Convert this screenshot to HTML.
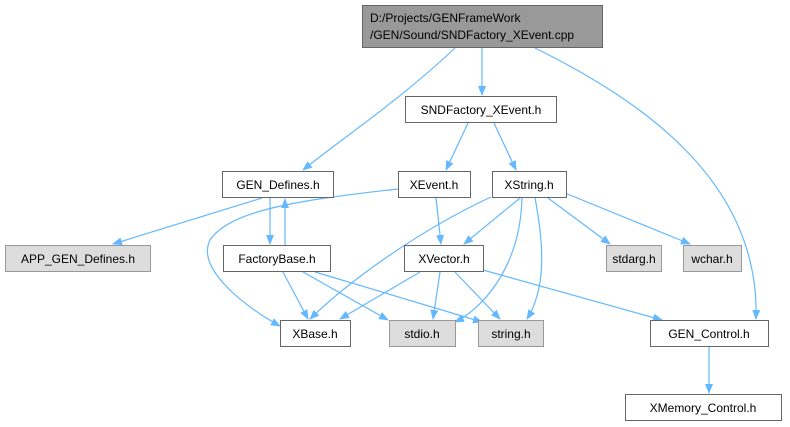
<!DOCTYPE html>
<html><head><meta charset="utf-8"><style>
html,body{margin:0;padding:0;background:#fff;width:790px;height:427px;overflow:hidden}
text{font-family:"Liberation Sans",sans-serif;font-size:12px;fill:#000}
</style></head><body>
<svg width="790" height="427" viewBox="0 0 790 427" xmlns="http://www.w3.org/2000/svg">
<defs><marker id="a" markerWidth="10" markerHeight="10" refX="9" refY="5" orient="auto" markerUnits="userSpaceOnUse"><path d="M0,1 L10,5 L0,9 Z" fill="#63b8ff"/></marker></defs>
<g fill="none" stroke="#63b8ff" stroke-width="1.2" marker-end="url(#a)">
<path d="M482,48 L482,95"/>
<path d="M455,48 C400,100 340,140 303,170"/>
<path d="M535,48 C640,100 760,180 756,319"/>
<path d="M468,123 L446,170"/>
<path d="M494,123 L516,170"/>
<path d="M262,198 L113,244"/>
<path d="M270,198 L270,244"/>
<path d="M285,245 L285,199"/>
<path d="M398,189 C300,200 230,210 210,240 C195,270 250,310 280,326"/>
<path d="M436,198 L441,244"/>
<path d="M520,198 L464,244"/>
<path d="M491,197 C420,230 350,280 310,319"/>
<path d="M522,198 C520,270 480,310 455,322"/>
<path d="M535,198 C545,250 545,290 527,319"/>
<path d="M548,198 L610,244"/>
<path d="M565,193 L690,244"/>
<path d="M283,272 L308,319"/>
<path d="M303,272 L388,320"/>
<path d="M315,272 L482,322"/>
<path d="M420,272 L340,319"/>
<path d="M440,272 L433,319"/>
<path d="M455,272 L500,319"/>
<path d="M483,270 L662,320"/>
<path d="M709,347 L709,393"/>
</g>
<g stroke-width="1">
<rect x="362.5" y="5.5" width="240" height="42" fill="#999" stroke="#666"/>
<rect x="405.5" y="96.5" width="151" height="26" fill="#fff" stroke="#666"/>
<rect x="222.5" y="171.5" width="111" height="26" fill="#fff" stroke="#666"/>
<rect x="398.5" y="171.5" width="72" height="26" fill="#fff" stroke="#666"/>
<rect x="492.5" y="171.5" width="74" height="26" fill="#fff" stroke="#666"/>
<rect x="5.5" y="245.5" width="145" height="26" fill="#ddd" stroke="#999"/>
<rect x="223.5" y="245.5" width="107" height="26" fill="#fff" stroke="#666"/>
<rect x="404.5" y="245.5" width="79" height="26" fill="#fff" stroke="#666"/>
<rect x="606.5" y="245.5" width="55" height="26" fill="#ddd" stroke="#999"/>
<rect x="683.5" y="245.5" width="58" height="26" fill="#ddd" stroke="#999"/>
<rect x="280.5" y="320.5" width="70" height="26" fill="#fff" stroke="#666"/>
<rect x="389.5" y="320.5" width="66" height="26" fill="#ddd" stroke="#999"/>
<rect x="478.5" y="320.5" width="65" height="26" fill="#ddd" stroke="#999"/>
<rect x="650.5" y="320.5" width="118" height="26" fill="#fff" stroke="#666"/>
<rect x="625.5" y="394.5" width="156" height="26" fill="#fff" stroke="#666"/>
</g>
<g>
<text x="370" y="22">D:/Projects/GENFrameWork</text>
<text x="370" y="39">/GEN/Sound/SNDFactory_XEvent.cpp</text>
<text x="481" y="114" text-anchor="middle">SNDFactory_XEvent.h</text>
<text x="278" y="189" text-anchor="middle">GEN_Defines.h</text>
<text x="434" y="189" text-anchor="middle">XEvent.h</text>
<text x="529" y="189" text-anchor="middle">XString.h</text>
<text x="78" y="263" text-anchor="middle">APP_GEN_Defines.h</text>
<text x="277" y="263" text-anchor="middle">FactoryBase.h</text>
<text x="444" y="263" text-anchor="middle">XVector.h</text>
<text x="634" y="263" text-anchor="middle">stdarg.h</text>
<text x="712" y="263" text-anchor="middle">wchar.h</text>
<text x="315" y="338" text-anchor="middle">XBase.h</text>
<text x="422" y="338" text-anchor="middle">stdio.h</text>
<text x="511" y="338" text-anchor="middle">string.h</text>
<text x="709" y="338" text-anchor="middle">GEN_Control.h</text>
<text x="703" y="412" text-anchor="middle">XMemory_Control.h</text>
</g>
</svg>
</body></html>
